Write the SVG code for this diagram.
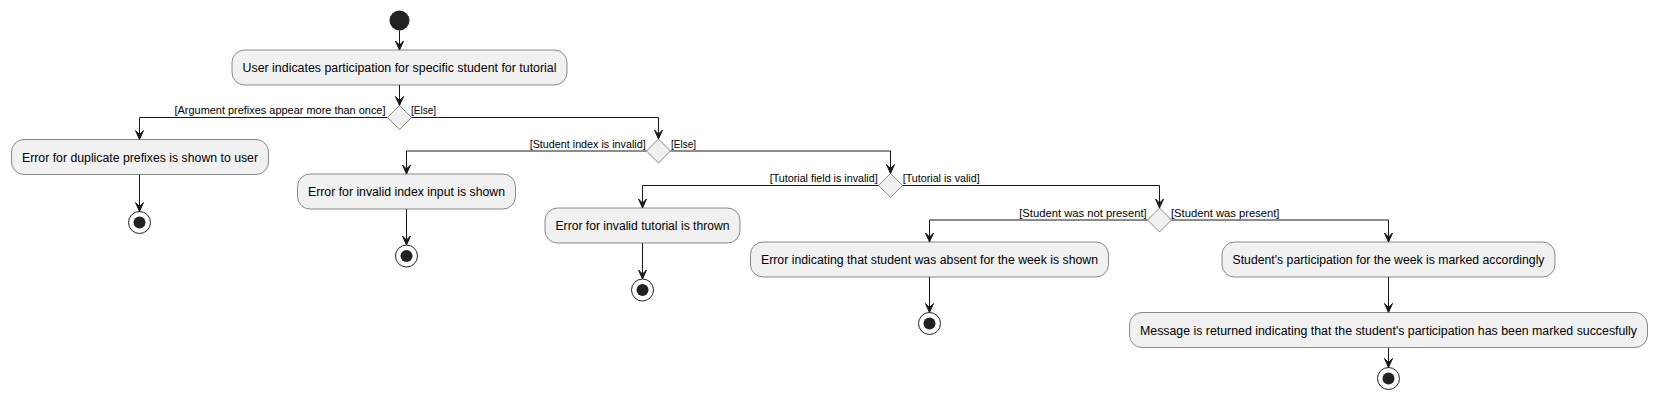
<svg xmlns="http://www.w3.org/2000/svg" width="1658" height="400" viewBox="0 0 1658 400">
<defs>
<style>
.box{fill:#F1F1F1;stroke:#181818;stroke-width:0.5}
.dia{fill:#F1F1F1;stroke:#181818;stroke-width:0.5}
.t{font-family:"Liberation Sans",Arial,sans-serif;font-size:12px;fill:#000000;text-anchor:start}
.g{font-family:"Liberation Sans",Arial,sans-serif;font-size:11px;fill:#000000}
.ln{fill:none;stroke:#181818;stroke-width:1}
.st{fill:#222222}
.eo{fill:none;stroke:#222222;stroke-width:1}
.ei{fill:#222222}
.ah{fill:#181818;stroke:#181818;stroke-width:1}
</style>
</defs>
<rect width="1658" height="400" fill="#FFFFFF"/>

<g id="connectors">
<path class="ln" d="M399.5,30.5 V50"/>
<path class="ln" d="M399.5,85 V105.5"/>
<path class="ln" d="M387.5,117.5 H139.5 V139.5"/>
<path class="ln" d="M139.5,174.5 V211.5"/>
<path class="ln" d="M411.5,117.5 H658.5 V139"/>
<path class="ln" d="M646.5,151 H406.5 V174"/>
<path class="ln" d="M406.5,209 V245"/>
<path class="ln" d="M670.5,151 H890.5 V173.5"/>
<path class="ln" d="M878.5,185.5 H642.5 V208"/>
<path class="ln" d="M642.5,243 V279"/>
<path class="ln" d="M902.5,185.5 H1159.5 V208"/>
<path class="ln" d="M1147.5,220 H929.5 V242"/>
<path class="ln" d="M929.5,277 V312.5"/>
<path class="ln" d="M1171.5,220 H1388.5 V242"/>
<path class="ln" d="M1388.5,277 V312.5"/>
<path class="ln" d="M1388.5,347.5 V367.5"/>
<polygon class="ah" points="395.5,41 399.5,50 403.5,41 399.5,45"/>
<polygon class="ah" points="395.5,96.5 399.5,105.5 403.5,96.5 399.5,100.5"/>
<polygon class="ah" points="135.5,130.5 139.5,139.5 143.5,130.5 139.5,134.5"/>
<polygon class="ah" points="135.5,202.5 139.5,211.5 143.5,202.5 139.5,206.5"/>
<polygon class="ah" points="654.5,130 658.5,139 662.5,130 658.5,134"/>
<polygon class="ah" points="402.5,165 406.5,174 410.5,165 406.5,169"/>
<polygon class="ah" points="402.5,236 406.5,245 410.5,236 406.5,240"/>
<polygon class="ah" points="886.5,164.5 890.5,173.5 894.5,164.5 890.5,168.5"/>
<polygon class="ah" points="638.5,199 642.5,208 646.5,199 642.5,203"/>
<polygon class="ah" points="638.5,270 642.5,279 646.5,270 642.5,274"/>
<polygon class="ah" points="1155.5,199 1159.5,208 1163.5,199 1159.5,203"/>
<polygon class="ah" points="925.5,233 929.5,242 933.5,233 929.5,237"/>
<polygon class="ah" points="925.5,303.5 929.5,312.5 933.5,303.5 929.5,307.5"/>
<polygon class="ah" points="1384.5,233 1388.5,242 1392.5,233 1388.5,237"/>
<polygon class="ah" points="1384.5,303.5 1388.5,312.5 1392.5,303.5 1388.5,307.5"/>
<polygon class="ah" points="1384.5,358.5 1388.5,367.5 1392.5,358.5 1388.5,362.5"/>
<text class="g" x="385.5" y="114" text-anchor="end" textLength="211" lengthAdjust="spacingAndGlyphs">[Argument prefixes appear more than once]</text>
<text class="g" x="411" y="114" textLength="25" lengthAdjust="spacingAndGlyphs">[Else]</text>
<text class="g" x="645.7" y="147.5" text-anchor="end" textLength="116" lengthAdjust="spacingAndGlyphs">[Student index is invalid]</text>
<text class="g" x="671" y="147.5" textLength="25" lengthAdjust="spacingAndGlyphs">[Else]</text>
<text class="g" x="877.7" y="182" text-anchor="end" textLength="108" lengthAdjust="spacingAndGlyphs">[Tutorial field is invalid]</text>
<text class="g" x="902.7" y="182" textLength="77" lengthAdjust="spacingAndGlyphs">[Tutorial is valid]</text>
<text class="g" x="1146.7" y="216.5" text-anchor="end" textLength="127.5" lengthAdjust="spacingAndGlyphs">[Student was not present]</text>
<text class="g" x="1171" y="216.5" textLength="108.5" lengthAdjust="spacingAndGlyphs">[Student was present]</text>
</g>

<g id="start"><circle class="st" cx="399.5" cy="20.5" r="10"/></g>

<g id="act1"><rect class="box" x="232" y="50" width="335" height="35" rx="12.5" ry="12.5"/>
<text class="t" x="242.5" y="72" textLength="314" lengthAdjust="spacingAndGlyphs">User indicates participation for specific student for tutorial</text></g>

<g id="dec1"><polygon class="dia" points="399.5,105.5 411.5,117.5 399.5,129.5 387.5,117.5"/></g>

<g id="actA"><rect class="box" x="11.5" y="139.5" width="257" height="35" rx="12.5" ry="12.5"/>
<text class="t" x="22" y="161.5" textLength="236" lengthAdjust="spacingAndGlyphs">Error for duplicate prefixes is shown to user</text></g>
<g id="endA"><circle class="eo" cx="139.5" cy="222.5" r="11"/><circle class="ei" cx="139.5" cy="222.5" r="6"/></g>

<g id="dec2"><polygon class="dia" points="658.5,139 670.5,151 658.5,163 646.5,151"/></g>

<g id="actB"><rect class="box" x="297.5" y="174" width="218" height="35" rx="12.5" ry="12.5"/>
<text class="t" x="308" y="196" textLength="197" lengthAdjust="spacingAndGlyphs">Error for invalid index input is shown</text></g>
<g id="endB"><circle class="eo" cx="406.5" cy="256" r="11"/><circle class="ei" cx="406.5" cy="256" r="6"/></g>

<g id="dec3"><polygon class="dia" points="890.5,173.5 902.5,185.5 890.5,197.5 878.5,185.5"/></g>

<g id="actC"><rect class="box" x="545" y="208" width="195" height="35" rx="12.5" ry="12.5"/>
<text class="t" x="555.5" y="230" textLength="174" lengthAdjust="spacingAndGlyphs">Error for invalid tutorial is thrown</text></g>
<g id="endC"><circle class="eo" cx="642.5" cy="290" r="11"/><circle class="ei" cx="642.5" cy="290" r="6"/></g>

<g id="dec4"><polygon class="dia" points="1159.5,208 1171.5,220 1159.5,232 1147.5,220"/></g>

<g id="actD"><rect class="box" x="750.5" y="242" width="358" height="35" rx="12.5" ry="12.5"/>
<text class="t" x="761" y="264" textLength="337" lengthAdjust="spacingAndGlyphs">Error indicating that student was absent for the week is shown</text></g>
<g id="endD"><circle class="eo" cx="929.5" cy="323.5" r="11"/><circle class="ei" cx="929.5" cy="323.5" r="6"/></g>

<g id="actE"><rect class="box" x="1222" y="242" width="333" height="35" rx="12.5" ry="12.5"/>
<text class="t" x="1232.5" y="264" textLength="312" lengthAdjust="spacingAndGlyphs">Student's participation for the week is marked accordingly</text></g>

<g id="actF"><rect class="box" x="1129.5" y="312.5" width="518" height="35" rx="12.5" ry="12.5"/>
<text class="t" x="1140" y="334.5" textLength="497" lengthAdjust="spacingAndGlyphs">Message is returned indicating that the student's participation has been marked succesfully</text></g>
<g id="endF"><circle class="eo" cx="1388.5" cy="378.5" r="11"/><circle class="ei" cx="1388.5" cy="378.5" r="6"/></g>
</svg>
